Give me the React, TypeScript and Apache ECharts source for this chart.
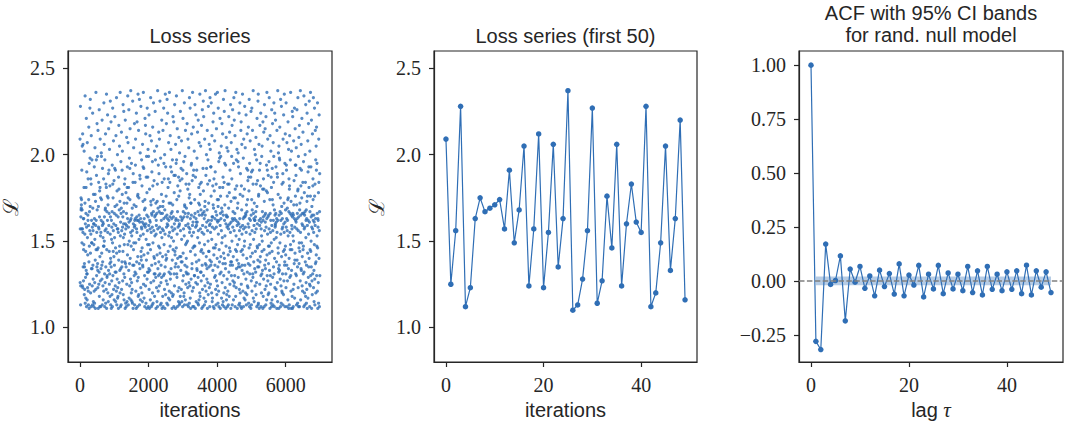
import React, { useEffect, useRef } from "react";
import * as echarts from "echarts";

// ---------- data ----------
// Loss series (sampled every lossIterStep iterations)
const lossIterStep = 4;
const lossSample = [
  2.09,1.26,1.57,2.28,1.13,1.24,1.64,1.75,1.68,1.69,1.71,1.74,1.57,1.91,1.49,1.68,2.05,1.24,1.57,2.12,1.23,1.55,2.06,1.35,1.63,
  1.27,1.45,1.63,1.48,1.81,2.02,1.19,1.37,1.35,1.22,1.54,1.72,2.34,1.14,1.60,1.29,1.44,1.17,1.66,1.81,1.33,2.21,1.12,1.58,1.90,
  1.31,1.31,1.16,2.07,1.52,1.23,1.42,1.65,1.62,1.86,1.21,1.13,1.59,1.74,2.16,1.38,1.11,1.95,1.47,1.67,1.25,1.56,2.27,1.98,1.70,
  2.32,1.43,1.20,1.86,1.54,1.12,1.83,2.11,1.34,1.62,1.49,1.49,1.97,1.34,1.24,1.58,1.13,2.24,1.69,1.36,1.56,1.28,1.15,1.77,1.60,
  1.12,1.48,1.60,1.21,1.93,1.63,1.14,1.26,1.51,2.04,1.77,1.39,1.11,1.73,1.59,1.22,2.36,1.45,1.62,1.97,1.88,1.30,1.55,1.35,2.18,
  1.68,1.45,1.99,1.37,1.33,1.23,2.14,1.46,1.11,1.70,1.58,1.84,1.25,1.57,1.32,2.26,1.18,1.64,1.79,1.12,1.41,1.81,2.09,1.27,1.53,
  1.75,1.12,1.55,1.34,1.62,2.01,1.99,1.74,1.43,1.36,1.28,2.20,1.13,1.59,1.92,1.38,1.61,1.24,1.52,1.16,1.60,1.47,1.86,1.21,2.30,
  1.47,2.06,1.50,1.64,1.31,1.12,1.97,1.56,1.26,1.68,1.69,2.12,1.14,1.35,1.83,1.57,1.22,1.81,2.35,1.11,1.45,1.67,1.29,1.30,1.76,
  1.62,2.23,1.55,1.20,1.71,1.75,1.15,1.89,1.33,2.15,1.59,1.91,1.66,1.44,1.25,2.03,1.31,1.37,1.82,1.18,1.54,2.31,1.64,1.40,1.13,
  1.38,2.19,1.35,1.11,1.62,1.51,1.27,1.58,1.19,1.67,1.94,1.12,1.49,2.27,1.83,1.30,1.75,1.44,1.56,2.08,1.22,1.60,1.41,1.85,1.16,
  1.66,1.36,1.52,1.92,2.22,1.70,1.32,1.24,1.91,1.46,1.15,1.59,2.11,1.32,1.65,1.21,2.33,1.43,1.13,1.71,1.79,1.28,1.57,2.00,1.17,
  1.23,1.57,1.18,1.64,1.55,1.11,1.87,1.39,2.17,1.80,1.26,1.68,1.44,2.05,1.47,1.33,1.73,1.20,2.36,1.53,1.12,1.61,1.34,1.96,1.66,
  1.13,1.69,2.13,1.22,1.56,1.35,1.38,1.91,1.77,2.02,1.58,1.27,1.64,1.44,2.29,1.19,1.52,1.67,1.60,2.25,1.31,1.16,1.72,1.48,1.83,
  1.54,1.29,1.38,1.86,1.11,2.20,1.60,1.37,1.14,1.57,1.78,1.35,1.12,1.66,1.59,2.10,1.25,1.72,1.15,1.81,1.93,1.42,1.63,2.34,1.48,
  2.07,1.75,1.13,1.58,1.81,1.33,2.26,1.61,1.17,1.50,1.98,1.37,1.24,1.92,1.74,2.15,1.40,1.62,1.28,1.55,2.37,1.16,1.63,1.47,1.20,
  1.95,1.26,1.53,1.65,1.15,1.22,1.69,1.14,1.56,2.31,1.36,1.84,1.11,1.89,1.60,1.45,2.04,1.49,1.36,1.71,1.30,1.58,2.18,1.13,1.62,
  1.59,1.32,1.84,1.63,1.94,2.09,1.49,1.21,1.31,1.70,1.11,2.24,1.57,1.38,1.64,1.55,2.19,1.62,1.27,1.12,1.76,1.41,1.77,2.35,1.18,
  1.29,1.62,2.14,1.19,1.75,1.51,1.65,1.37,2.32,1.13,1.61,1.88,1.34,1.86,2.01,1.16,1.53,1.63,1.23,2.28,1.44,1.41,1.39,1.58,1.97,
  1.57,1.20,1.82,1.46,1.61,1.15,2.06,1.36,1.35,1.73,1.93,1.54,2.36,1.25,1.60,1.92,1.42,1.17,1.63,1.59,1.68,1.30,1.12,1.74,2.21,
  1.69,1.58,2.17,1.24,2.12,1.60,1.14,1.51,1.87,1.39,1.99,1.11,1.65,1.78,1.28,2.27,1.56,1.32,1.48,1.87,1.43,2.03,1.64,1.12,1.32,
  1.99,1.59,1.34,2.23,1.22,1.48,1.11,1.80,1.62,1.33,2.11,1.57,1.61,1.16,1.45,2.33,1.73,1.26,1.71,1.55,1.12,2.08,1.66,1.36,1.90,
  1.65,1.13,1.58,1.96,1.20,2.16,1.82,1.49,1.14,1.74,1.67,2.30,1.27,1.56,1.41,1.85,1.31,1.40,2.02,1.18,1.64,1.53,1.31,2.25,1.37,
  1.97,1.65,1.29,1.72,1.11,1.54,1.62,1.59,1.23,2.05,1.66,1.15,1.42,1.73,1.83,1.12,2.37,1.57,1.34,1.69,1.21,1.94,1.30,1.47,2.13,
  1.38,1.89,1.67,1.24,2.09,1.58,1.46,1.31,2.31,1.43,1.70,1.13,1.55,1.98,1.66,1.26,1.36,1.14,1.62,1.77,1.29,2.20,1.52,1.11,1.84,
  1.57,1.66,1.41,1.18,1.70,2.14,1.12,1.73,1.56,1.30,2.27,1.63,1.95,1.48,1.86,1.31,1.22,2.00,1.68,1.11,1.54,1.35,2.35,1.64,1.19,
  1.93,1.42,1.39,1.76,1.27,2.18,1.58,1.40,1.14,1.65,2.32,1.60,1.25,1.63,2.24,1.13,1.59,1.81,1.44,1.86,1.17,2.07,1.53,1.62,1.32,
  1.72,1.21,2.36,1.55,1.16,1.84,1.64,1.47,2.11,1.28,1.31,1.93,1.72,2.03,1.34,1.66,1.20,1.52,1.90,1.63,1.58,1.11,1.67,1.39,1.97,
  1.18,1.71,1.56,2.22,1.45,1.19,1.64,1.50,2.19,1.12,1.88,1.31,1.78,1.60,1.24,2.29,1.57,1.44,1.42,1.35,1.88,1.11,2.06,1.62,1.37,
  1.63,1.95,1.46,2.34,1.97,1.31,1.74,1.29,1.54,2.15,1.12,1.67,1.40,1.82,1.21,1.58,1.62,1.35,1.15,1.87,1.76,2.10,1.23,1.59,1.13,
  1.60,2.01,1.41,1.14,1.85,1.79,1.18,2.25,1.56,1.64,1.33,1.41,1.92,1.38,1.22,2.08,1.51,1.62,1.15,1.86,1.38,2.37,1.63,1.12,1.27,
  1.91,2.21,1.43,1.67,1.30,1.57,1.96,1.18,1.64,1.20,1.53,2.30,1.13,1.71,1.70,1.36,1.99,1.66,1.16,2.14,1.48,1.59,1.25,1.83,1.32,
  1.40,1.69,1.49,1.89,1.31,1.35,2.18,1.13,1.64,1.50,1.23,1.80,2.09,1.60,1.31,1.66,1.12,1.58,2.04,1.26,1.83,1.75,1.14,2.33,1.55,
  1.77,1.24,1.57,2.27,1.17,1.63,1.44,1.11,1.72,1.72,1.28,1.94,1.65,1.95,2.12,1.53,1.34,1.37,1.85,1.21,1.59,2.36,1.12,1.46,1.61,
  1.88,2.16,1.23,1.55,1.91,1.12,1.64,1.47,2.02,1.30,1.30,1.74,1.47,2.29,1.66,1.42,1.11,1.87,1.58,1.26,2.23,1.63,1.15,1.61,1.38,
  1.59,1.91,1.34,1.98,1.33,1.61,1.25,2.13,1.52,1.14,1.67,1.29,2.20,1.56,1.13,1.72,1.81,1.39,1.16,2.07,1.65,1.49,1.71,1.20,2.35,
  1.83,1.18,1.77,1.57,1.32,2.05,1.44,1.68,1.32,1.27,1.84,2.17,1.45,1.11,1.65,1.55,1.36,2.26,1.22,1.59,1.66,1.12,1.92,1.43,2.31,
  1.79,1.30,2.22,1.54,1.17,1.67,1.63,1.13,1.48,2.09,1.70,1.24,1.73,1.65,1.37,2.37,1.15,1.58,1.88,1.21,1.36,1.41,2.00,1.92,1.61,
  1.28,1.34,1.68,2.14,1.11,1.56,1.83,1.26,1.97,1.50,1.19,2.28,1.62,1.72,1.44,1.44,1.35,2.06,1.23,1.59,1.85,1.12,1.39,2.33,1.60,
  2.03,1.25,1.55,1.93,1.36,1.93,1.76,2.30,1.38,1.62,1.20,1.51,2.11,1.64,1.15,1.58,1.17,1.64,1.82,1.33,2.19,1.71,1.12,1.46,1.69,
  2.24,1.42,1.86,1.11,1.79,1.57,1.29,2.08,1.63,1.36,1.46,1.90,1.30,2.35,1.22,1.67,1.48,1.13,1.83,1.58,2.15,1.27,1.65,1.19,1.62,
  1.40,1.74,2.36,1.24,1.61,1.35,1.14,1.70,2.27,1.54,1.74,1.21,1.96,1.12,1.62,1.45,2.01,1.38,1.98,1.81,1.31,2.21,1.59,1.11,1.66,
  1.76,1.99,1.41,1.63,1.32,2.05,1.56,1.17,1.69,1.49,2.18,1.26,1.67,1.52,1.13,2.12,1.81,1.37,1.87,1.15,1.65,2.32,1.43,1.30,1.20,
  1.12,1.84,2.25,1.40,1.62,1.95,1.71,1.53,2.37,1.23,1.37,1.34,1.94,1.11,1.60,1.47,2.10,1.65,1.16,1.64,1.19,2.04,1.58,1.28,1.76,
  1.12,1.64,1.83,1.21,2.02,1.59,1.42,1.13,1.57,1.69,2.22,1.32,1.83,1.18,1.78,1.46,2.13,1.60,1.25,1.91,1.44,1.36,1.55,2.29,1.38,
  1.11,1.73,1.61,2.07,1.30,1.38,1.99,1.86,1.50,2.17,1.13,1.63,1.36,2.26,1.58,1.27,1.67,1.62,1.41,1.16,1.95,1.75,2.33,1.24,1.56,
  2.20,1.26,1.63,1.30,1.66,2.11,1.12,1.80,1.75,1.45,1.18,2.36,1.62,1.53,1.23,1.97,1.34,1.44,1.82,2.03,1.39,1.59,1.11,1.69,1.48,
  1.61,1.72,1.96,2.01,1.29,1.35,1.93,1.37,1.13,1.60,2.24,1.51,1.22,1.56,1.14,1.63,2.30,1.35,1.77,1.20,1.89,1.58,1.12,2.14,1.44,
  2.19,1.25,1.82,1.11,1.68,2.06,1.54,1.33,1.36,1.45,2.35,1.59,1.76,1.21,1.42,1.63,1.98,1.12,1.57,2.09,1.31,1.17,1.64,1.47,1.80,
  1.50,2.28,1.36,1.64,1.16,2.04,1.58,1.20,1.66,1.65,1.28,2.23,1.55,1.13,1.71,1.92,1.40,1.19,1.67,2.12,1.32,1.24,1.74,1.91,1.85,
  1.23,1.60,1.37,2.16,1.87,1.14,1.58,1.79,1.46,2.32,1.63,1.12,1.95,1.31,1.36,1.54,2.08,1.48,1.62,1.41,1.87,1.11,2.25,1.65,1.27,
  1.13,1.90,1.74,2.27,1.21,1.56,1.68,1.43,2.14,1.91,1.31,1.29,1.83,2.37,1.17,1.66,1.51,1.38,1.63,1.59,1.15,1.72,2.03,1.62,1.34,
  1.55,1.62,1.24,2.00,1.44,1.64,1.32,1.67,2.10,1.19,1.57,1.83,1.26,1.97,1.12,1.70,2.21,1.47,1.60,1.46,1.85,1.35,1.39,2.31,1.13,
  2.35,1.14,1.76,1.77,1.35,2.06,1.62,1.11,1.48,1.91,1.59,1.25,2.17,1.38,1.95,1.41,1.82,1.63,2.24,1.30,1.12,1.57,1.61,1.20,1.53,
  1.99,1.31,1.44,2.05,1.50,1.67,1.33,1.80,1.11,2.19,1.62,1.18,1.64,1.86,1.28,2.13,1.80,1.45,1.12,1.73,2.29,1.56,1.36,1.65,1.22,
  2.15,1.61,1.34,1.66,1.39,1.13,2.22,1.58,1.24,1.79,1.94,1.16,1.63,2.36,1.42,1.30,1.91,1.78,1.54,2.09,1.27,1.64,1.19,1.88,1.47,
  1.37,1.65,1.20,1.96,1.57,2.33,1.47,1.33,1.43,1.74,1.11,2.11,1.66,1.30,1.55,1.25,1.62,2.02,1.14,1.87,1.49,1.81,1.12,2.26,1.59,
  1.16,1.44,1.92,1.74,2.18,1.29,1.56,1.13,1.71,2.07,1.62,1.35,1.84,1.99,2.30,1.31,1.51,1.12,1.68,1.40,2.24,1.23,1.65,1.58,1.60,
  1.59,2.20,1.18,1.66,1.93,1.22,1.52,1.61,1.38,1.63,1.11,2.14,1.55,1.89,1.26,1.87,1.15,2.37,1.62,1.46,1.77,1.43,2.01,1.34,1.32,
  1.11,2.05,1.65,1.36,1.98,1.33,1.97,2.16,1.49,1.67,1.28,1.75,1.12,2.32,1.54,1.62,1.24,1.14,1.66,2.28,1.41,1.70,1.21,1.83,1.57,
  1.20,1.63,1.31,1.58,1.89,1.13,2.09,1.84,1.44,1.19,2.23,1.60,1.27,1.72,1.55,2.35,1.45,1.36,1.38,1.95,1.12,1.61,2.12,1.47,1.68,
  1.42,1.31,1.23,2.30,1.58,1.94,1.91,1.63,1.36,2.07,1.12,1.56,1.69,1.27,1.62,1.74,1.16,2.19,1.53,1.75,1.34,2.03,1.11,1.67,1.86,
  1.40,1.13,1.80,1.82,2.11,1.29,1.55,1.66,1.45,1.97,1.48,2.36,1.30,1.21,1.73,1.11,1.65,2.02,1.33,1.59,1.45,1.57,1.18,2.25,1.64,
  1.11,2.22,1.66,1.53,1.22,1.12,1.65,1.50,2.08,1.71,1.25,1.85,1.37,1.63,2.27,1.17,1.58,1.39,1.43,2.15,1.94,1.76,1.62,1.31,1.94,
  1.88,1.61,2.04,1.30,1.13,1.71,1.57,2.26,1.39,1.63,1.66,1.35,1.14,1.79,2.33,1.80,1.23,1.56,1.99,1.12,1.64,2.10,1.46,1.37,1.49,
  2.17,1.12,1.68,1.44,1.72,1.92,1.27,2.37,1.55,1.16,1.65,1.82,1.34,2.06,1.33,1.91,1.49,1.75,2.21,1.60,1.24,1.41,1.66,1.21,1.59,
  1.84,2.13,1.45,1.31,1.47,1.96,1.66,1.12,2.34,1.32,1.57,1.78,1.20,1.65,1.58,1.13,1.67,2.00,1.38,1.84,1.18,2.29,1.52,1.62,1.26,
  1.68,1.14,1.36,1.63,1.22,1.73,2.24,1.11,1.59,1.76,1.43,2.08,1.17,1.90,1.62,1.29,2.18,1.54,1.35,1.93,1.81,1.40,2.31,1.61,1.25,
  1.12,2.02,1.67,1.45,1.24,1.76,2.36,1.30,1.44,1.93,1.50,1.64,1.35,2.20,1.11,1.58,1.70,1.27,1.65,1.19,2.12,1.57,1.31,1.82,1.86,
  1.74,1.62,2.33,1.23,1.55,1.65,1.33,1.15,1.61,1.48,2.27,1.76,1.28,1.13,1.83,1.59,2.14,1.37,1.63,1.97,1.20,1.38,2.05,1.42,1.91,
  2.16,1.30,1.47,1.95,1.53,1.66,1.21,2.30,1.46,1.11,1.63,1.58,1.62,1.26,1.78,1.14,2.09,1.84,1.40,2.23,1.56,1.12,1.67,1.89,1.30,
];

// First 50 values of the loss series
const first50 = [
  2.09,1.25,1.56,2.28,1.12,1.23,1.63,1.75,1.67,1.69,
  1.71,1.74,1.57,1.91,1.49,1.68,2.05,1.24,1.57,2.12,
  1.23,1.55,2.06,1.35,1.63,2.37,1.10,1.13,1.28,1.56,
  2.27,1.14,1.27,1.76,1.46,2.06,1.24,1.60,1.83,1.61,
  1.55,2.28,1.12,1.20,1.49,2.05,1.33,1.63,2.20,1.16,
];

// Autocorrelation at lags 0..49
const acfValues = [
  1.0,-0.28,-0.318,0.171,-0.016,0.002,0.116,-0.185,0.055,-0.006,
  0.067,-0.034,0.023,-0.069,0.05,-0.026,0.034,-0.061,0.079,-0.069,
  0.027,-0.019,0.072,-0.074,0.031,-0.037,0.072,-0.059,0.037,-0.037,
  0.031,-0.045,0.067,-0.054,0.047,-0.065,0.067,-0.039,0.031,-0.045,
  0.042,-0.039,0.047,-0.059,0.073,-0.065,0.047,-0.029,0.042,-0.054,
];
const ciHalfWidth = 0.02;
const ciLagRange = [1, 49];

const lossTicks = [1.0, 1.5, 2.0, 2.5];
const iterTicks = [0, 2000, 4000, 6000];
const first50Ticks = [0, 20, 40];
const acfTicks = [-0.25, 0, 0.25, 0.5, 0.75, 1.0];
const lagTicks = [0, 20, 40];

const titles = ["Loss series", "Loss series (first 50)", "ACF with 95% CI bands", "for rand. null model"];

// ---------- styles ----------
const BLUE = "#2f6eb5";
const INK = "#262626";
const SERIF = "'Liberation Serif', 'DejaVu Serif', serif";
const SANS = "'Liberation Sans', 'DejaVu Sans', sans-serif";

function axis(gridIndex: number, min: number, max: number, ticks: number[], fmt: (v: number) => string, extra: any = {}) {
  return {
    type: "value",
    gridIndex,
    min,
    max,
    axisLine: { show: true, onZero: false, lineStyle: { color: INK, width: 1.2 } },
    axisTick: { show: true, inside: false, length: 5, customValues: ticks, lineStyle: { color: INK, width: 1.2 } },
    axisLabel: { customValues: ticks, formatter: fmt, fontFamily: SERIF, fontSize: 20, color: INK, margin: 13 },
    splitLine: { show: false },
    ...extra,
  };
}

const fmt1 = (v: number) => v.toFixed(1);
const fmtInt = (v: number) => String(Math.round(v));
const fmt2 = (v: number) => (v < 0 ? "\u2212" : "") + Math.abs(v).toFixed(2);

export default function App() {
  const ref = useRef<HTMLDivElement>(null);

  useEffect(() => {
    if (!ref.current) return;
    const chart = echarts.init(ref.current, undefined, { renderer: "svg" });

    const gridBase = { show: true, borderColor: INK, borderWidth: 1.2, backgroundColor: "transparent", containLabel: false, outerBoundsMode: "none" };

    const xName = (text: string) => ({
      name: text,
      nameLocation: "middle",
      nameGap: 37,
      nameTextStyle: { fontFamily: SANS, fontSize: 20, color: INK },
    });
    const yName = {
      name: "\u2112",
      nameLocation: "middle",
      nameGap: 47,
      nameRotate: 90,
      nameTextStyle: { fontFamily: "'DejaVu Serif', serif", fontSize: 21, color: INK },
    };
    const titleText = (text: string, x: number, y: number) => ({
      type: "text",
      x,
      y,
      silent: true,
      style: { text, fontFamily: SANS, fontSize: 20, fill: INK, align: "center", verticalAlign: "middle" },
    });

    const option: any = {
      animation: false,
      backgroundColor: "#ffffff",
      textStyle: { fontFamily: SANS },
      grid: [
        { ...gridBase, left: 68, top: 51, width: 264, height: 311 },
        { ...gridBase, left: 434, top: 51, width: 263, height: 311 },
        { ...gridBase, left: 799, top: 51, width: 264, height: 311 },
      ],
      xAxis: [
        axis(0, -351, 7351, iterTicks, fmtInt, xName("iterations")),
        axis(1, -2.45, 51.45, first50Ticks, fmtInt, xName("iterations")),
        axis(2, -2.45, 51.45, lagTicks, fmtInt, {
          ...xName("lag {t|\u03c4}"),
          nameTextStyle: {
            fontFamily: SANS, fontSize: 20, color: INK,
            rich: { t: { fontFamily: SERIF, fontStyle: "italic", fontSize: 21, color: INK } },
          },
        }),
      ],
      yAxis: [
        axis(0, 0.8, 2.6, lossTicks, fmt1, yName),
        axis(1, 0.8, 2.6, lossTicks, fmt1, yName),
        axis(2, -0.3757, 1.0655, acfTicks, fmt2),
      ],
      graphic: [
        titleText(titles[0], 200, 36),
        titleText(titles[1], 565.5, 36),
        titleText(titles[2], 931, 13),
        titleText(titles[3], 931, 35),
      ],
      series: [
        {
          type: "scatter",
          xAxisIndex: 0,
          yAxisIndex: 0,
          symbol: "circle",
          symbolSize: 3.2,
          itemStyle: { color: BLUE, opacity: 0.8 },
          silent: true,
          data: lossSample.map((v, i) => [i * lossIterStep, v]),
        },
        {
          type: "line",
          xAxisIndex: 1,
          yAxisIndex: 1,
          symbol: "circle",
          symbolSize: 5.5,
          showSymbol: true,
          lineStyle: { color: BLUE, width: 1.2 },
          itemStyle: { color: BLUE },
          silent: true,
          data: first50.map((v, i) => [i, v]),
        },
        {
          type: "line",
          xAxisIndex: 2,
          yAxisIndex: 2,
          z: 1,
          symbol: "none",
          showSymbol: false,
          lineStyle: { opacity: 0, width: 0 },
          silent: true,
          data: acfValues.map((v, i) => [i, v]),
          markArea: {
            silent: true,
            itemStyle: { color: "rgba(47,110,181,0.35)" },
            label: { show: false },
            data: [[{ xAxis: ciLagRange[0], yAxis: -ciHalfWidth }, { xAxis: ciLagRange[1], yAxis: ciHalfWidth }]],
          },
          markLine: {
            silent: true,
            symbol: ["none", "none"],
            label: { show: false },
            lineStyle: { color: "#808080", type: [5.5, 2.4], width: 1.5 },
            data: [{ yAxis: 0 }],
          },
        },
        {
          type: "line",
          xAxisIndex: 2,
          yAxisIndex: 2,
          z: 3,
          symbol: "circle",
          symbolSize: 5.5,
          showSymbol: true,
          lineStyle: { color: BLUE, width: 1.2 },
          itemStyle: { color: BLUE },
          silent: true,
          data: acfValues.map((v, i) => [i, v]),
        },
      ],
    };

    chart.setOption(option);
    return () => chart.dispose();
  }, []);

  return (
    <div
      ref={ref}
      style={{ position: "fixed", left: 0, top: 0, width: 1065, height: 423, background: "#fff" }}
    />
  );
}
